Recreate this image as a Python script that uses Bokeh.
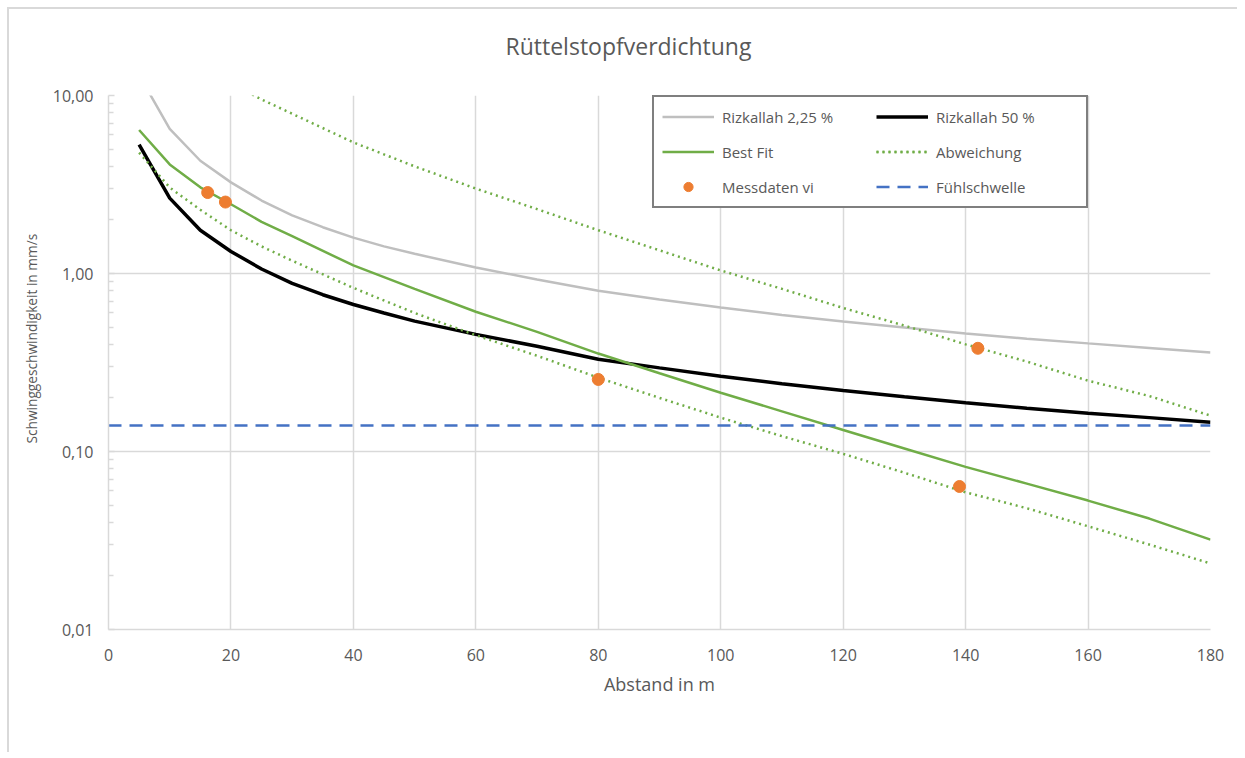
import math
from bokeh.plotting import figure
from bokeh.models import (FixedTicker, Legend, LegendItem, Title)
from bokeh.embed import file_html
from bokeh.resources import INLINE

# ---------------- data ----------------
x_riz = [5, 10, 15, 20, 25, 30, 35, 40, 45, 50, 60, 70, 80, 90, 100, 110, 120, 130, 140, 150, 160, 170, 180]
riz_225 = [13.0, 6.5, 4.3, 3.25, 2.57, 2.12, 1.82, 1.59, 1.42, 1.29, 1.08, 0.925, 0.80, 0.715, 0.644,
           0.585, 0.537, 0.497, 0.46, 0.43, 0.405, 0.382, 0.36]
riz_50 = [5.3, 2.65, 1.75, 1.33, 1.06, 0.88, 0.76, 0.67, 0.60, 0.54, 0.455, 0.39, 0.33, 0.295, 0.265,
          0.24, 0.22, 0.203, 0.188, 0.175, 0.164, 0.155, 0.146]

x_fit = [5, 10, 15, 20, 25, 30, 40, 50, 60, 70, 80, 90, 100, 110, 120, 130, 140, 150, 160, 170, 180]
best_fit = [6.4, 4.1, 3.05, 2.45, 1.95, 1.62, 1.11, 0.82, 0.61, 0.47, 0.355, 0.275, 0.214, 0.168,
            0.132, 0.104, 0.082, 0.066, 0.053, 0.042, 0.032]
abw_low = [4.78, 3.04, 2.28, 1.75, 1.42, 1.18, 0.83, 0.60, 0.45, 0.345, 0.26, 0.20, 0.155, 0.122,
           0.097, 0.076, 0.059, 0.048, 0.038, 0.030, 0.0235]

x_up = [20, 25, 30, 40, 50, 60, 70, 80, 90, 100, 110, 120, 130, 140, 150, 160, 170, 180]
abw_up = [11.7, 9.5, 7.9, 5.45, 4.0, 3.0, 2.3, 1.75, 1.35, 1.04, 0.82, 0.64, 0.51, 0.40, 0.32, 0.25,
          0.205, 0.159]

mess_x = [16.2, 19.1, 80, 139, 142]
mess_y = [2.85, 2.52, 0.254, 0.0636, 0.38]

fuehl_x = [0, 180]
fuehl_y = [0.14, 0.14]

y_ticks = [0.01, 0.1, 1, 10]
y_tick_labels = ["0,01", "0,10", "1,00", "10,00"]
x_ticks = [0, 20, 40, 60, 80, 100, 120, 140, 160, 180]

FONT = "Open Sans"
TXT = "#595959"
GRID = "#d9d9d9"

p = figure(width=1230, height=745, output_backend="svg", toolbar_location=None,
           y_axis_type="log", x_range=(0, 180), y_range=(0.01, 10),
           min_border_left=99, min_border_right=29, min_border_top=86, min_border_bottom=125,
           background_fill_color="white", border_fill_color="white")
p.title_location = None
p.outline_line_color = None
p.styles = {"margin-left": "7px", "margin-top": "7px",
            "border-left": "2px solid #d9d9d9", "border-top": "2px solid #d9d9d9"}

# spacer between frame and title, then the title (above)
spacer = Title(text=" ", text_font_size="1px", standoff=16)
p.add_layout(spacer, "above")
main_title = Title(text="Rüttelstopfverdichtung", text_font=FONT, text_font_size="23px",
                   text_font_style="normal", text_color=TXT, align="left", offset=397,
                   standoff=30)
p.add_layout(main_title, "above")

# y-axis title (left)
ytitle = Title(text="Schwinggeschwindigkeit in mm/s", text_font=FONT, text_font_size="13.7px",
               text_font_style="normal", text_color=TXT, align="left", offset=186, standoff=18)
p.add_layout(ytitle, "left")

# axes
p.xaxis.ticker = FixedTicker(ticks=x_ticks)
minor = [m * d for d in [0.01, 0.1, 1] for m in range(2, 10)]
p.yaxis.ticker = FixedTicker(ticks=y_ticks, minor_ticks=minor)
p.yaxis.major_label_overrides = {t: l for t, l in zip(y_ticks, y_tick_labels)}

for ax in (p.xaxis[0], p.yaxis[0]):
    ax.axis_line_color = GRID
    ax.axis_line_width = 1.5
    ax.major_label_text_font = FONT
    ax.major_label_text_font_size = "16px"
    ax.major_label_text_color = TXT
p.xaxis.major_label_standoff = 13
p.yaxis.major_label_standoff = 15

p.xaxis.major_tick_line_color = None
p.xaxis.minor_tick_line_color = None
p.yaxis.major_tick_line_color = GRID
p.yaxis.major_tick_in = 6
p.yaxis.major_tick_out = 0
p.yaxis.minor_tick_line_color = GRID
p.yaxis.minor_tick_in = 5
p.yaxis.minor_tick_out = 0
p.yaxis.major_tick_line_width = 1.5
p.yaxis.minor_tick_line_width = 1.5

p.xaxis.axis_label = "Abstand in m"
p.xaxis.axis_label_text_font = FONT
p.xaxis.axis_label_text_font_size = "18px"
p.xaxis.axis_label_text_font_style = "normal"
p.xaxis.axis_label_text_color = TXT
p.xaxis.axis_label_standoff = 8

p.xgrid.ticker = FixedTicker(ticks=x_ticks)
p.ygrid.ticker = FixedTicker(ticks=y_ticks)
p.xgrid.grid_line_color = GRID
p.ygrid.grid_line_color = GRID
p.xgrid.grid_line_width = 1.5
p.ygrid.grid_line_width = 1.5

# series
r_225 = p.line(x_riz, riz_225, line_color="#bfbfbf", line_width=2.5)
r_50 = p.line(x_riz, riz_50, line_color="black", line_width=3.5)
r_fit = p.line(x_fit, best_fit, line_color="#70ad47", line_width=2.5)
r_up = p.line(x_up, abw_up, line_color="#70ad47", line_width=2.5, line_dash="2 4")
r_low = p.line(x_fit, abw_low, line_color="#70ad47", line_width=2.5, line_dash="2 4")
r_fu = p.line(fuehl_x, fuehl_y, line_color="#4472c4", line_width=2.5, line_dash="13 8")
r_ms = p.scatter(mess_x, mess_y, size=12, fill_color="#ed7d31", line_color="#ed7d31")

# legend is filled column by column
legend = Legend(items=[
    LegendItem(label="Rizkallah 2,25 %", renderers=[r_225]),
    LegendItem(label="Best Fit", renderers=[r_fit]),
    LegendItem(label="Messdaten vi", renderers=[r_ms]),
    LegendItem(label="Rizkallah 50 %", renderers=[r_50]),
    LegendItem(label="Abweichung", renderers=[r_up, r_low]),
    LegendItem(label="Fühlschwelle", renderers=[r_fu]),
], ncols=2, orientation="vertical", location=(544, 421))
legend.border_line_color = "black"
legend.border_line_width = 2
legend.background_fill_color = "white"
legend.background_fill_alpha = 1
legend.padding = 8
legend.spacing = 12
legend.glyph_width = 52
legend.glyph_height = 23
legend.label_height = 23
legend.label_width = 142
legend.label_standoff = 8
legend.margin = 0
legend.label_text_font = FONT
legend.label_text_font_size = "15px"
legend.label_text_color = TXT
p.add_layout(legend)

open("out.html", "w").write(file_html(p, INLINE))
